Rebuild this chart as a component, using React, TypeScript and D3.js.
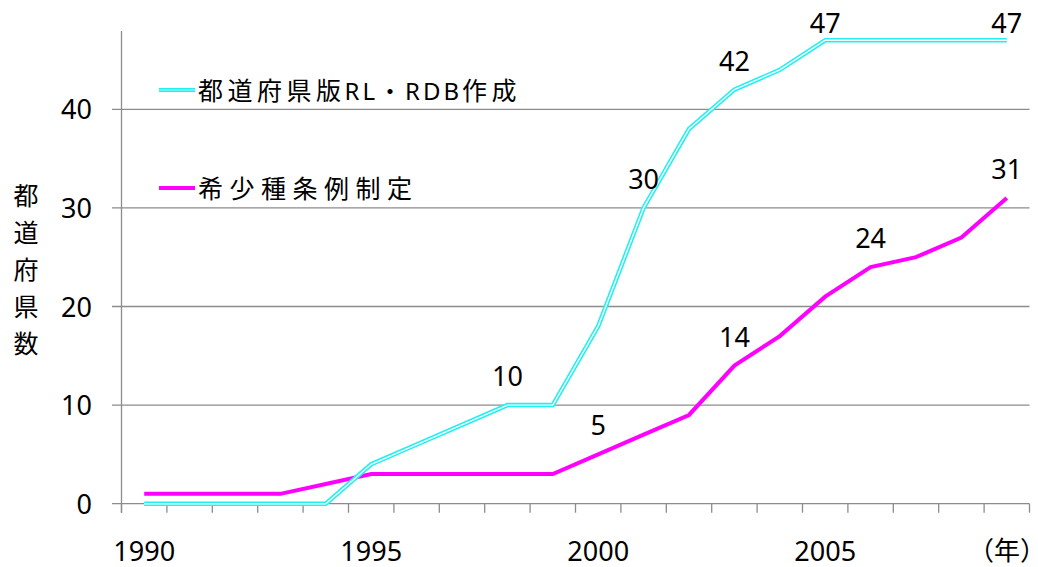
import * as d3 from "d3";

const years = [1990, 1991, 1992, 1993, 1994, 1995, 1996, 1997, 1998, 1999, 2000, 2001, 2002, 2003, 2004, 2005, 2006, 2007, 2008, 2009];
const rdbCounts = [0, 0, 0, 0, 0, 4, 6, 8, 10, 10, 18, 30, 38, 42, 44, 47, 47, 47, 47, 47];
const ordinanceCounts = [1, 1, 1, 1, 2, 3, 3, 3, 3, 3, 5, 7, 9, 14, 17, 21, 24, 25, 27, 31];
const rdbLabelYears = [1998, 2001, 2003, 2005, 2009];
const ordinanceLabelYears = [2000, 2003, 2006, 2009];
const yTicks = [0, 10, 20, 30, 40];
const xLabelYears = [1990, 1995, 2000, 2005];
// legend name split into CJK / Latin runs so each can get its own spacing
const rdbNameParts = ["都道府県版", "RL・RDB", "作成"];
const ordinanceName = "希少種条例制定";
const yTitle = ["都", "道", "府", "県", "数"];

const W = 1038;
const H = 567;
const FONT = "'Noto Sans', 'Noto Sans CJK JP', sans-serif";
const GRID = "#8c8c8c";
const CYAN = "#22f0f0";
const MAGENTA = "#ff00ff";

export default function App() {
  const x = d3.scaleBand<number>().domain(years).range([121.5, 1029.5]);
  const cx = (yr: number) => (x(yr) ?? 0) + x.bandwidth() / 2;
  const y = d3.scaleLinear().domain([0, 40]).range([503.7, 109.3]);
  const axisTop = 31;

  const line = d3
    .line<number>()
    .x((_, i) => cx(years[i]))
    .y((v) => y(v));

  const rdbPath = line(rdbCounts) ?? "";
  const ordPath = line(ordinanceCounts) ?? "";

  const boundaries = [...years.map((yr) => x(yr) ?? 0), x.range()[1]];

  const label = (yr: number, vals: number[]) => {
    const v = vals[years.indexOf(yr)];
    return { x: cx(yr), y: Math.max(y(v) - 19, 33), text: String(v) };
  };

  return (
    <svg
      width={W}
      height={H}
      style={{ position: "absolute", left: 0, top: 0, background: "#fff" }}
      fontFamily={FONT}
    >
      {/* grid + y ticks */}
      {yTicks.map((t) => (
        <g key={t}>
          <line x1={112} x2={x.range()[1]} y1={y(t)} y2={y(t)} stroke={GRID} strokeWidth={1.3} />
          <text x={92} y={y(t) + 10} textAnchor="end" fontSize={27} fill="#000">
            {t}
          </text>
        </g>
      ))}
      {/* y axis line */}
      <line x1={x.range()[0]} x2={x.range()[0]} y1={axisTop} y2={y(0) + 9} stroke={GRID} strokeWidth={1.3} />
      {/* x ticks */}
      {boundaries.map((b, i) => (
        <line key={i} x1={b} x2={b} y1={y(0)} y2={y(0) + 9} stroke={GRID} strokeWidth={1.3} />
      ))}
      {xLabelYears.map((yr) => (
        <text key={yr} x={cx(yr)} y={561} textAnchor="middle" fontSize={27} fill="#000">
          {yr}
        </text>
      ))}
      <text x={1007} y={560} textAnchor="middle" fontSize={26} fill="#000">
        （年）
      </text>

      {/* y title */}
      {yTitle.map((c, i) => (
        <text key={c} x={26} y={205 + i * 37} textAnchor="middle" fontSize={25} fill="#000">
          {c}
        </text>
      ))}

      {/* series */}
      <path d={ordPath} fill="none" stroke={MAGENTA} strokeWidth={4} />
      <path d={rdbPath} fill="none" stroke={CYAN} strokeWidth={4.5} />
      <path d={rdbPath} fill="none" stroke="#fff" strokeWidth={1.4} />

      {/* data labels */}
      {rdbLabelYears.map((yr) => {
        const l = label(yr, rdbCounts);
        return (
          <text key={"r" + yr} x={l.x} y={l.y} textAnchor="middle" fontSize={27} fill="#000">
            {l.text}
          </text>
        );
      })}
      {ordinanceLabelYears.map((yr) => {
        const l = label(yr, ordinanceCounts);
        return (
          <text key={"o" + yr} x={l.x} y={l.y} textAnchor="middle" fontSize={27} fill="#000">
            {l.text}
          </text>
        );
      })}

      {/* legend */}
      <line x1={159} x2={195} y1={90} y2={90} stroke={CYAN} strokeWidth={4} />
      <line x1={159} x2={195} y1={90} y2={90} stroke="#fff" strokeWidth={1} opacity={0.6} />
      <text x={198} y={100} fontSize={25} fill="#000">
        <tspan letterSpacing={4.5}>{rdbNameParts[0]}</tspan>
        <tspan fontSize={24} letterSpacing={3} dx={-1}>{rdbNameParts[1]}</tspan>
        <tspan letterSpacing={4.5}>{rdbNameParts[2]}</tspan>
      </text>
      <line x1={159} x2={195} y1={188} y2={188} stroke={MAGENTA} strokeWidth={4} />
      <text x={198} y={198} fontSize={25} fill="#000" letterSpacing={6.5}>
        {ordinanceName}
      </text>
    </svg>
  );
}
